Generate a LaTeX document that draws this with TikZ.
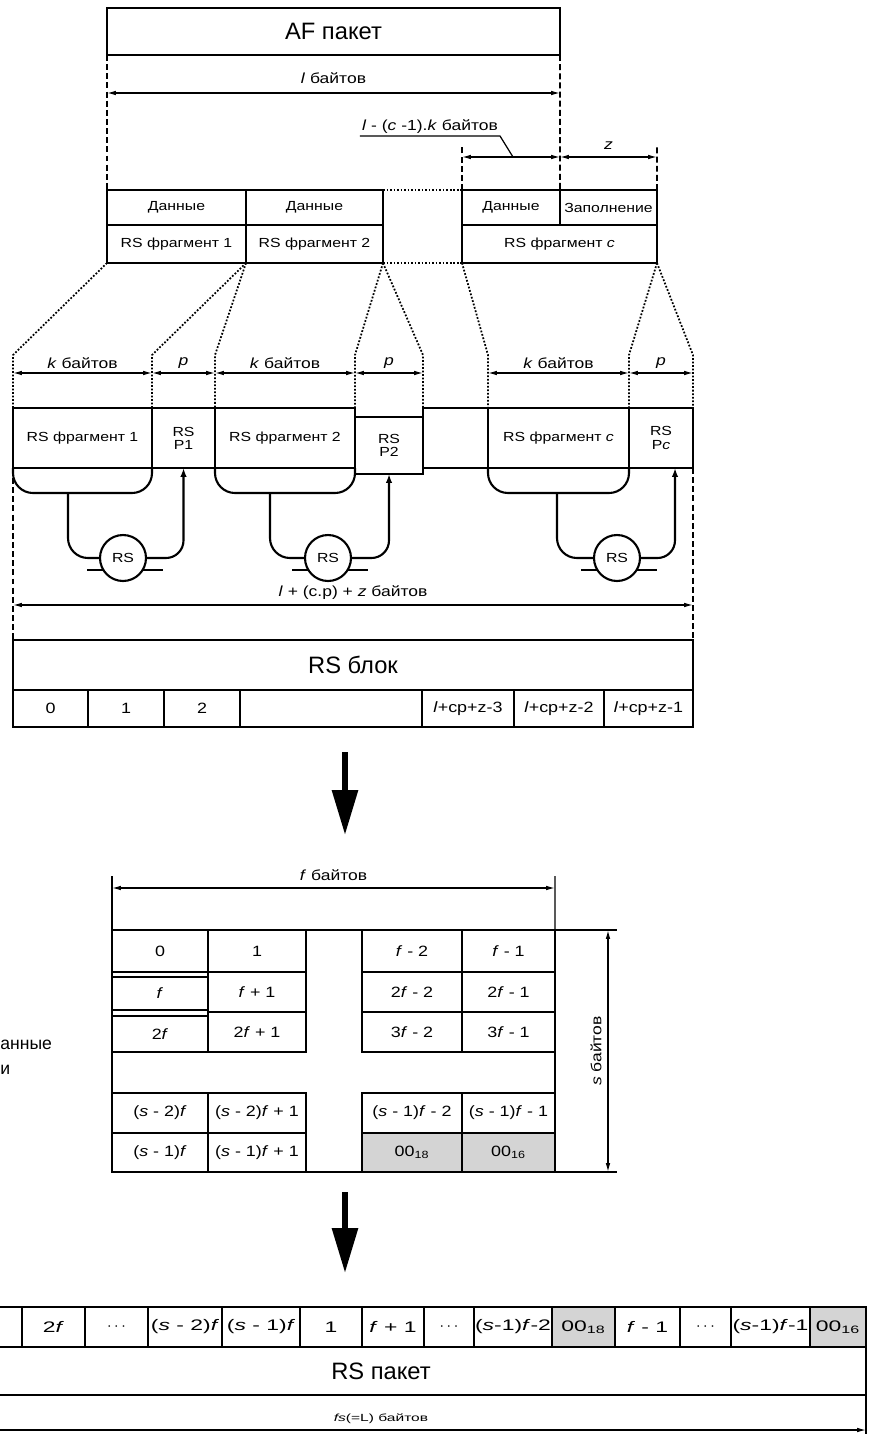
\documentclass[tikz,border=0pt]{standalone}
\usepackage{fontspec}
\setmainfont{Liberation Sans}
\newfontfamily\ancha{Liberation Sans}[FakeStretch=1.2]
\newfontfamily\muyancha{Liberation Sans}[FakeStretch=1.5]
\usetikzlibrary{arrows.meta}
\tikzset{
  caja/.style={draw, line width=1.2pt, inner sep=0pt, outer sep=0pt,
               anchor=north west, font=\ancha\fontsize{7.5}{8.5}\selectfont},
  tam/.style 2 args={minimum width=#1*0.02cm, minimum height=#2*0.02cm},
  doble/.style={caja, align=center, font=\ancha\fontsize{7.5}{7.5}\selectfont},
  grande/.style={caja, font=\fontsize{13.5}{15}\selectfont},
  celda/.style={caja, font=\ancha\fontsize{8.5}{9.5}\selectfont},
  indice/.style={caja, font=\ancha\fontsize{8.5}{9.5}\selectfont},
  paqcelda/.style={caja, font=\muyancha\fontsize{8.7}{9.5}\selectfont},
  gris/.style={fill=black!17},
  etiqueta/.style={font=\ancha\fontsize{8.3}{9.5}\selectfont, inner sep=1pt},
  cota/.style={{Latex[length=5pt,width=2.6pt]}-{Latex[length=5pt,width=2.6pt]},
               line width=0.7pt},
  fina/.style={line width=0.7pt},
  discont/.style={line width=0.9pt, dash pattern=on 3.4pt off 1.8pt},
  punteado/.style={line width=1pt, dash pattern=on 1pt off 1pt},
  linea/.style={line width=1.2pt, rounded corners=0.4cm},
  flecha/.style={-{Latex[length=5pt,width=3.6pt]}, line width=1.2pt,
                 rounded corners=0.35cm},
  codif/.style={circle, draw, line width=1.2pt, fill=white, minimum size=0.92cm,
                inner sep=0pt, font=\ancha\fontsize{7.5}{8}\selectfont},
  gorda/.style={-{Triangle[length=0.9cm, width=0.5cm]}, line width=3.4pt}
}
\begin{document}
\begin{tikzpicture}[x=0.02cm, y=-0.02cm]
  \useasboundingbox (0,0) rectangle (869,1438);

  % ── AF пакет и фрагменты ──
  \node[grande, tam={453}{47}] (af)      at (107,8)   {AF пакет};
  \node[caja, tam={139}{35}]   (dat1)    at (107,190) {Данные};
  \node[caja, tam={139}{38}]   (frag1)   at (107,225) {RS фрагмент 1};
  \node[caja, tam={137}{35}]   (dat2)    at (246,190) {Данные};
  \node[caja, tam={137}{38}]   (frag2)   at (246,225) {RS фрагмент 2};
  \node[caja, tam={98}{35}]    (datc)    at (462,190) {Данные};
  \node[caja, tam={97}{35}]    (relleno) at (560,190) {Заполнение};
  \node[caja, tam={195}{38}]   (fragc)   at (462,225) {RS фрагмент \textit{c}};

  \draw[punteado] (dat2.north east)  -- (datc.north west);
  \draw[punteado] (frag2.south east) -- (fragc.south west);

  \coordinate (la) at (107,93);
  \coordinate (lb) at (560,93);
  \draw[discont] (af.south west) -- (dat1.north west);
  \draw[discont] (af.south east) -- (datc.north east);
  \draw[cota] (la) -- node[etiqueta, above=4pt] {\textit{l} байтов} (lb);

  \coordinate (rat) at (462,147);
  \coordinate (rct) at (657,147);
  \coordinate (ra)  at (462,157);
  \coordinate (rb)  at (560,157);
  \coordinate (rc)  at (657,157);
  \draw[discont] (datc.north west)    -- (rat);
  \draw[discont] (relleno.north east) -- (rct);
  \draw[cota] (ra) -- (rb);
  \draw[cota] (rb) -- node[etiqueta, above=3pt] {\textit{z}} (rc);
  \node[etiqueta] (lck) at (430,127)
        {\textit{l} - (\textit{c} -1).\textit{k} байтов};
  \coordinate (lckpie) at (513,157);
  \draw[fina] (lck.south west) -- (lck.south east) -- (lckpie);

  % ── RS кодирование ──
  \node[caja,  tam={139}{60}] (bloq1) at (13,408)  {RS фрагмент 1};
  \node[doble, tam={63}{60}]  (par1)  at (152,408) {RS\\P1};
  \node[caja,  tam={140}{60}] (bloq2) at (215,408) {RS фрагмент 2};
  \node[doble, tam={68}{57}]  (par2)  at (355,417) {RS\\P2};
  \node[caja,  tam={65}{60}]  (vacio) at (423,408) {};
  \node[caja,  tam={141}{60}] (bloqc) at (488,408) {RS фрагмент \textit{c}};
  \node[doble, tam={64}{60}]  (parc)  at (629,408) {RS\\P\textit{c}};

  \coordinate (k1) at (13,355);
  \coordinate (k2) at (152,355);
  \coordinate (k3) at (215,355);
  \coordinate (k4) at (355,355);
  \coordinate (k5) at (423,355);
  \coordinate (k6) at (488,355);
  \coordinate (k7) at (629,355);
  \coordinate (k8) at (693,355);
  \draw[punteado] (frag1.south west) -- (k1) -- (bloq1.north west);
  \draw[punteado] (frag1.south east) -- (k2) -- (par1.north west);
  \draw[punteado] (frag2.south west) -- (k3) -- (bloq2.north west);
  \draw[punteado] (frag2.south east) -- (k4) -- (par2.north west);
  \draw[punteado] (frag2.south east) -- (k5) -- (par2.north east);
  \draw[punteado] (fragc.south west) -- (k6) -- (bloqc.north west);
  \draw[punteado] (fragc.south east) -- (k7) -- (parc.north west);
  \draw[punteado] (fragc.south east) -- (k8) -- (parc.north east);

  \coordinate (m1) at (13,373);
  \coordinate (m2) at (152,373);
  \coordinate (m3) at (215,373);
  \coordinate (m4) at (355,373);
  \coordinate (m5) at (423,373);
  \coordinate (m6) at (488,373);
  \coordinate (m7) at (629,373);
  \coordinate (m8) at (693,373);
  \draw[cota] (m1) -- node[etiqueta, above=1pt] {\textit{k} байтов} (m2);
  \draw[cota] (m2) -- node[etiqueta, above=1pt] {\textit{p}} (m3);
  \draw[cota] (m3) -- node[etiqueta, above=1pt] {\textit{k} байтов} (m4);
  \draw[cota] (m4) -- node[etiqueta, above=1pt] {\textit{p}} (m5);
  \draw[cota] (m6) -- node[etiqueta, above=1pt] {\textit{k} байтов} (m7);
  \draw[cota] (m7) -- node[etiqueta, above=1pt] {\textit{p}} (m8);

  % скобки под фрагментами
  \draw[linea] (bloq1.south west) -- ++(0,25) -- ++(139,0) -- (bloq1.south east);
  \draw[linea] (bloq2.south west) -- ++(0,25) -- ++(140,0) -- (bloq2.south east);
  \draw[linea] (bloqc.south west) -- ++(0,25) -- ++(141,0) -- (bloqc.south east);

  % кодеры
  \coordinate (cen1) at (123,558);
  \coordinate (cen2) at (328,558);
  \coordinate (cen3) at (617,558);
  \draw[linea] (cen1) ++(-36,12) -- ++(76,0);
  \draw[linea] (cen2) ++(-36,12) -- ++(76,0);
  \draw[linea] (cen3) ++(-36,12) -- ++(76,0);
  \node[codif] (cod1) at (cen1) {RS};
  \node[codif] (cod2) at (cen2) {RS};
  \node[codif] (cod3) at (cen3) {RS};

  \coordinate (t1) at (68,493);
  \coordinate (t2) at (270,493);
  \coordinate (t3) at (557,493);
  \coordinate (entc) at (675,468);
  \draw[linea]  (t1) |- (cod1.west);
  \draw[linea]  (t2) |- (cod2.west);
  \draw[linea]  (t3) |- (cod3.west);
  \draw[flecha] (cod1.east) -| (par1.south);
  \draw[flecha] (cod2.east) -| (par2.south);
  \draw[flecha] (cod3.east) -| (entc);

  % ── RS блок ──
  \node[grande, tam={680}{50}] (bloque) at (13,640) {RS блок};
  \coordinate (izq) at (13,478);
  \draw[discont] (izq) -- (bloque.north west);
  \draw[discont] (parc.south east) -- (bloque.north east);
  \coordinate (ta) at (13,605);
  \coordinate (tb) at (693,605);
  \draw[cota] (ta) -- node[etiqueta, above=2pt]
        {\textit{l} + (c.p) + \textit{z} байтов} (tb);

  \node[indice, tam={75}{37}]  (i0) at (13,690)  {0};
  \node[indice, tam={76}{37}]  (i1) at (88,690)  {1};
  \node[indice, tam={76}{37}]  (i2) at (164,690) {2};
  \node[indice, tam={182}{37}] (i3) at (240,690) {};
  \node[indice, tam={92}{37}]  (i4) at (422,690) {\textit{l}+cp+z-3};
  \node[indice, tam={90}{37}]  (i5) at (514,690) {\textit{l}+cp+z-2};
  \node[indice, tam={89}{37}]  (i6) at (604,690) {\textit{l}+cp+z-1};

  \coordinate (g1) at (345,752);
  \coordinate (g2) at (345,835);
  \draw[gorda] (g1) -- (g2);

  % ── таблица s x f ──
  \node[caja, tam={443}{242}] (tabla) at (112,930) {};
  \node[celda, tam={96}{42}]  (t11) at (112,930)  {0};
  \node[celda, tam={98}{42}]  (t12) at (208,930)  {1};
  \node[celda, tam={100}{42}] (t13) at (362,930)  {\textit{f} - 2};
  \node[celda, tam={93}{42}]  (t14) at (462,930)  {\textit{f} - 1};
  \node[celda, tam={96}{33}]  (t21) at (112,977)  {\textit{f}};
  \node[celda, tam={98}{40}]  (t22) at (208,972)  {\textit{f} + 1};
  \node[celda, tam={100}{40}] (t23) at (362,972)  {2\textit{f} - 2};
  \node[celda, tam={93}{40}]  (t24) at (462,972)  {2\textit{f} - 1};
  \node[celda, tam={96}{36}]  (t31) at (112,1016) {2\textit{f}};
  \node[celda, tam={98}{40}]  (t32) at (208,1012) {2\textit{f} + 1};
  \node[celda, tam={100}{40}] (t33) at (362,1012) {3\textit{f} - 2};
  \node[celda, tam={93}{40}]  (t34) at (462,1012) {3\textit{f} - 1};
  \node[celda, tam={96}{40}]  (t41) at (112,1093) {(\textit{s} - 2)\textit{f}};
  \node[celda, tam={98}{40}]  (t42) at (208,1093) {(\textit{s} - 2)\textit{f} + 1};
  \node[celda, tam={100}{40}] (t43) at (362,1093) {(\textit{s} - 1)\textit{f} - 2};
  \node[celda, tam={93}{40}]  (t44) at (462,1093) {(\textit{s} - 1)\textit{f} - 1};
  \node[celda, tam={96}{39}]  (t51) at (112,1133) {(\textit{s} - 1)\textit{f}};
  \node[celda, tam={98}{39}]  (t52) at (208,1133) {(\textit{s} - 1)\textit{f} + 1};
  \node[celda, gris, tam={100}{39}] (t53) at (362,1133) {00\textsubscript{18}};
  \node[celda, gris, tam={93}{39}]  (t54) at (462,1133) {00\textsubscript{16}};

  \coordinate (fat) at (112,876);
  \coordinate (fbt) at (555,876);
  \coordinate (fa)  at (112,888);
  \coordinate (fb)  at (555,888);
  \draw[fina] (tabla.north west) -- (fat);
  \draw[fina] (tabla.north east) -- (fbt);
  \draw[cota] (fa) -- node[etiqueta, above=3pt] {\textit{f} байтов} (fb);

  \coordinate (sat) at (617,930);
  \coordinate (sbt) at (617,1172);
  \coordinate (sa)  at (608,930);
  \coordinate (sb)  at (608,1172);
  \draw[fina] (tabla.north east) -- (sat);
  \draw[fina] (tabla.south east) -- (sbt);
  \draw[cota] (sa) -- (sb);
  \node[etiqueta, rotate=90] (slbl) at (596,1051) {\textit{s} байтов};

  \node[anchor=west, inner sep=0pt, font=\fontsize{10}{12}\selectfont]
        (lado1) at (0,1045) {анные};
  \node[anchor=west, inner sep=0pt, font=\fontsize{10}{12}\selectfont]
        (lado2) at (0,1070) {и};

  \coordinate (g3) at (345,1192);
  \coordinate (g4) at (345,1273);
  \draw[gorda] (g3) -- (g4);

  % ── RS пакет ──
  \node[paqcelda, tam={63}{40}] (p0)  at (-41,1307) {};
  \node[paqcelda, tam={63}{40}] (p1)  at (22,1307)  {2\textit{f}};
  \node[paqcelda, tam={63}{40}] (p2)  at (85,1307)  {$\cdots$};
  \node[paqcelda, tam={74}{40}] (p3)  at (148,1307) {(\textit{s} - 2)\textit{f}};
  \node[paqcelda, tam={78}{40}] (p4)  at (222,1307) {(\textit{s} - 1)\textit{f}};
  \node[paqcelda, tam={62}{40}] (p5)  at (300,1307) {1};
  \node[paqcelda, tam={62}{40}] (p6)  at (362,1307) {\textit{f} + 1};
  \node[paqcelda, tam={50}{40}] (p7)  at (424,1307) {$\cdots$};
  \node[paqcelda, tam={78}{40}] (p8)  at (474,1307) {(\textit{s}-1)\textit{f}-2};
  \node[paqcelda, gris, tam={63}{40}] (p9) at (552,1307) {00\textsubscript{18}};
  \node[paqcelda, tam={65}{40}] (p10) at (615,1307) {\textit{f} - 1};
  \node[paqcelda, tam={51}{40}] (p11) at (680,1307) {$\cdots$};
  \node[paqcelda, tam={79}{40}] (p12) at (731,1307) {(\textit{s}-1)\textit{f}-1};
  \node[paqcelda, gris, tam={56}{40}] (p13) at (810,1307) {00\textsubscript{16}};
  \node[grande, tam={970}{48}] (paquete) at (-104,1347) {RS пакет};

  \coordinate (fin) at (866,1434);
  \coordinate (qa)  at (-104,1430);
  \coordinate (qb)  at (866,1430);
  \draw[fina] (paquete.south east) -- (fin);
  \draw[cota] (qa) -- node[above=2pt, inner sep=1pt,
        font=\muyancha\fontsize{5.9}{7}\selectfont]
        {\textit{fs}(=L) байтов} (qb);
\end{tikzpicture}
\end{document}
